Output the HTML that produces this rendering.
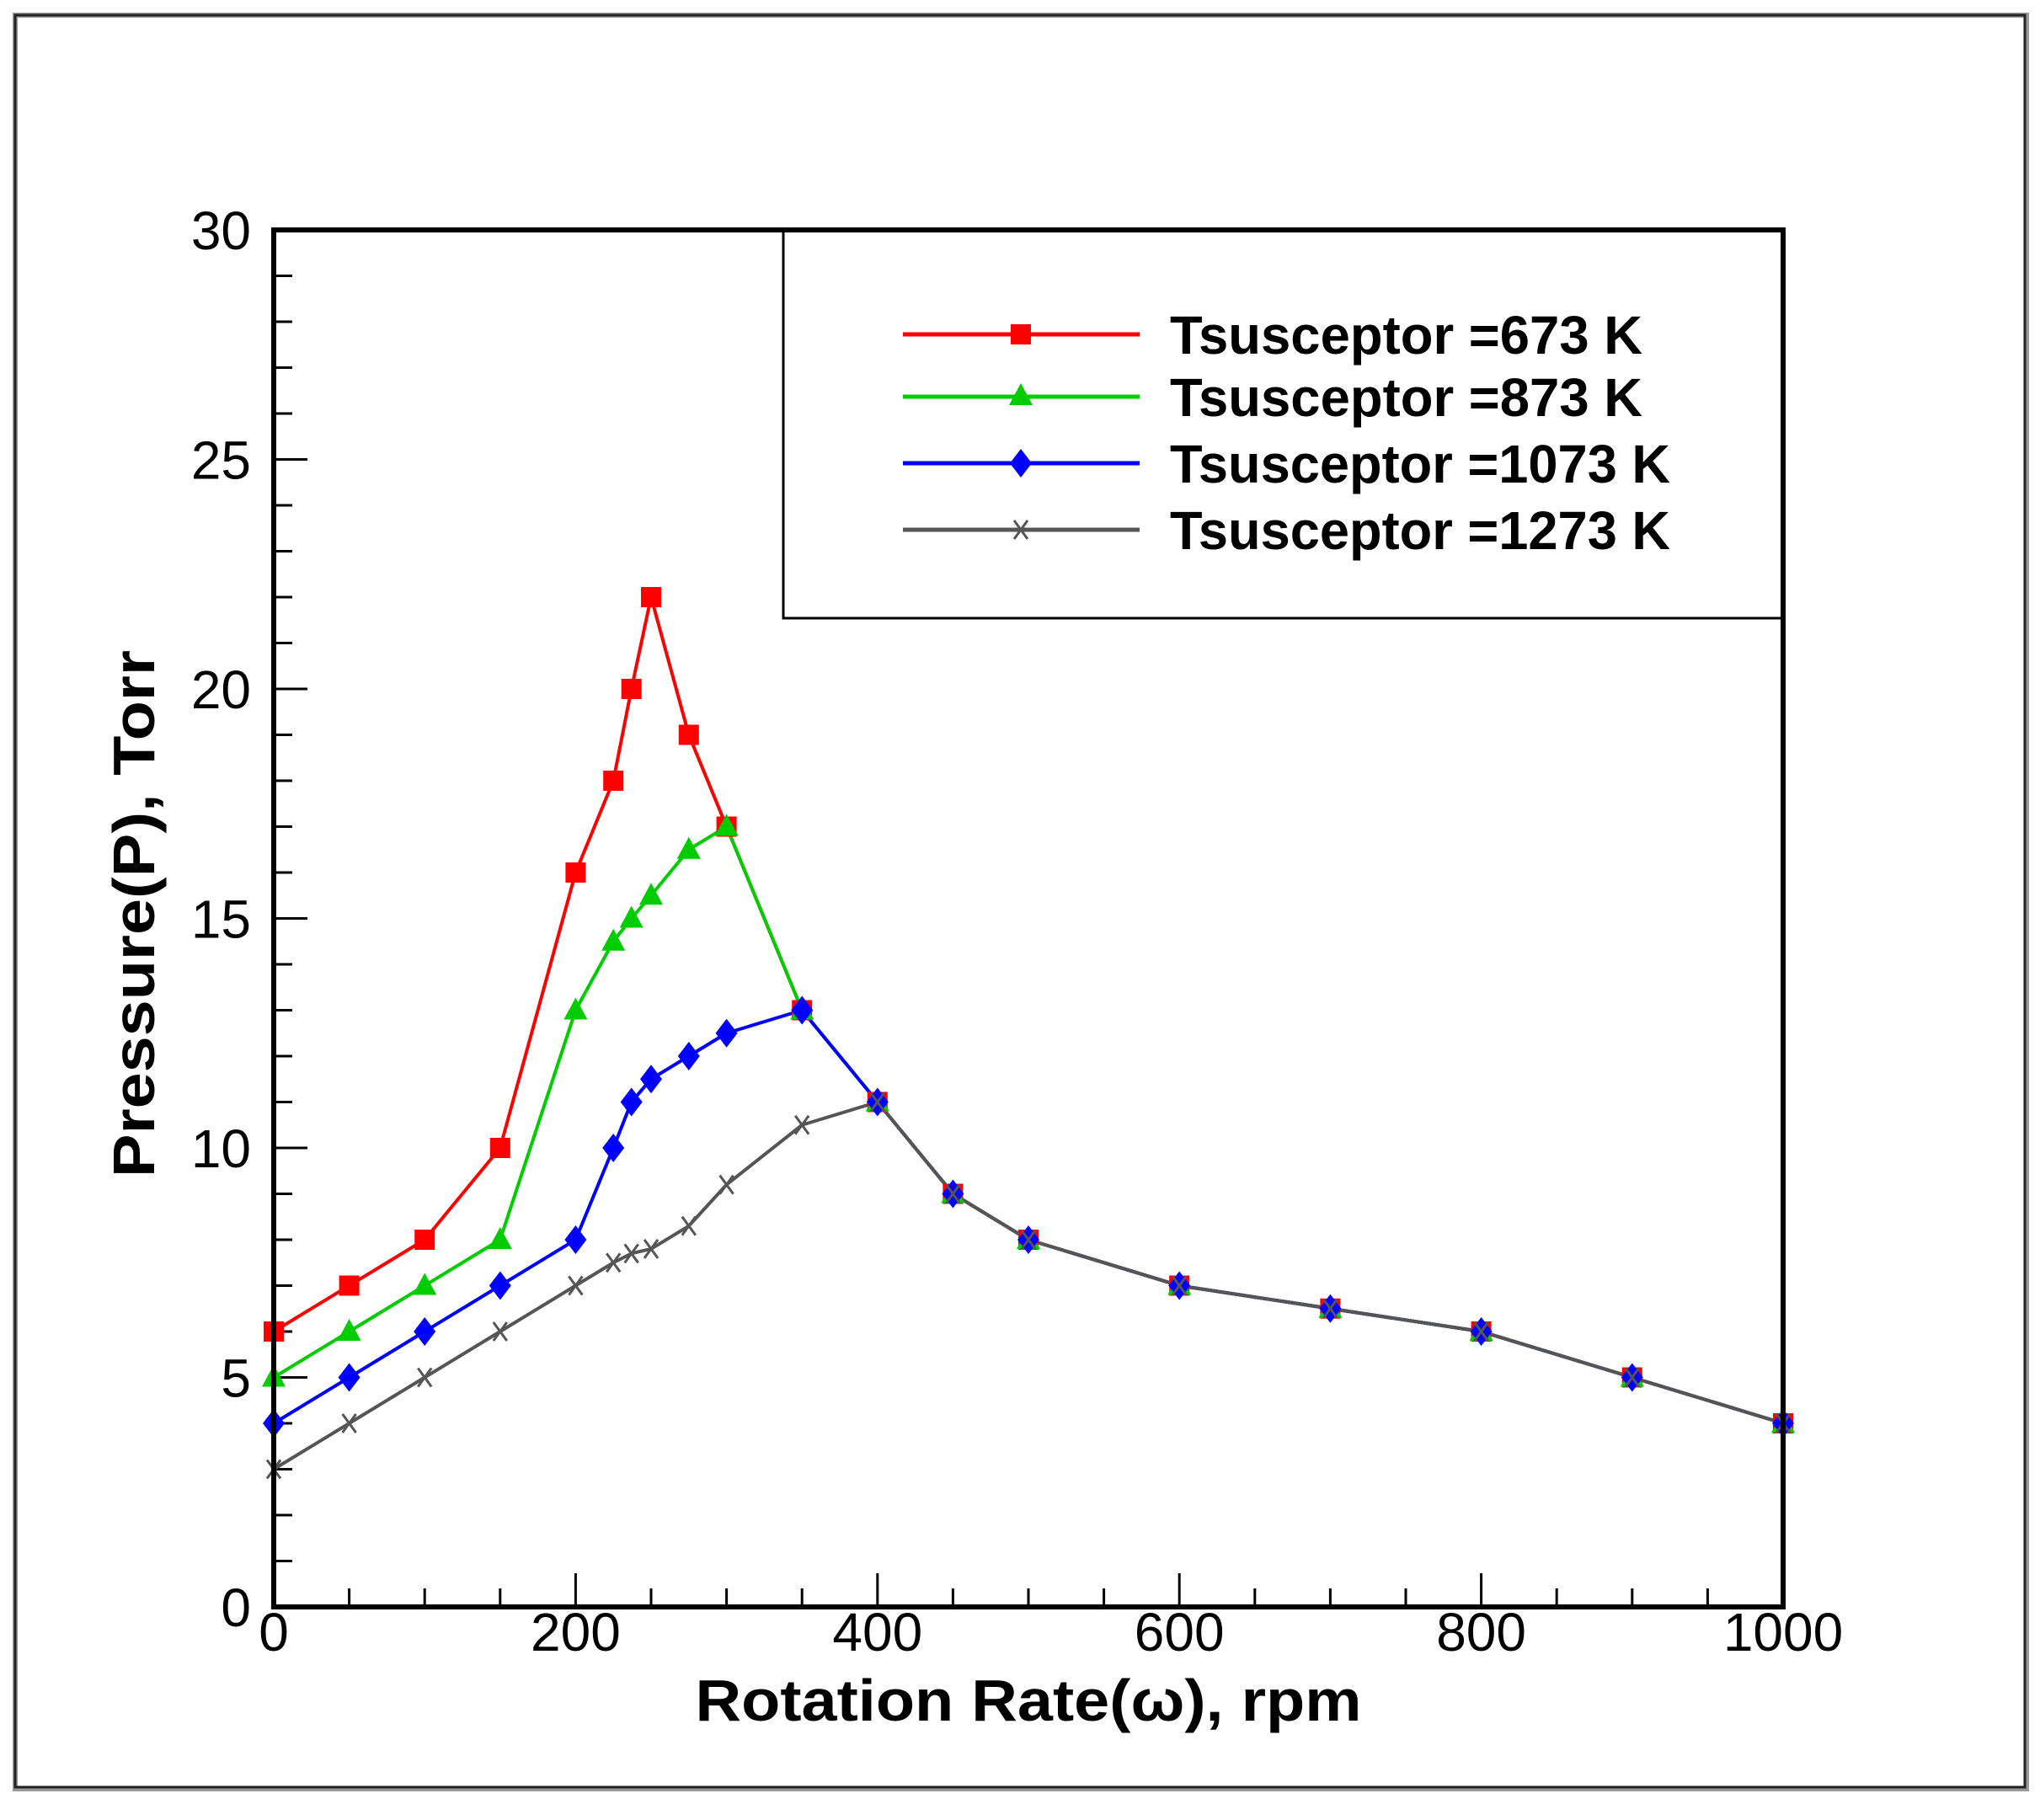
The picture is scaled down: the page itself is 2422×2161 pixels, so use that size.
<!DOCTYPE html>
<html><head><meta charset="utf-8"><style>html,body{margin:0;padding:0;background:#fff}svg{display:block}</style></head>
<body>
<svg width="2422" height="2161" viewBox="0 0 2422 2161" xmlns="http://www.w3.org/2000/svg" font-family="'Liberation Sans', Arial, sans-serif">
<rect x="0" y="0" width="2422" height="2161" fill="#fff"/>
<rect x="18" y="18" width="2388" height="2106" fill="none" stroke="#999" stroke-width="6"/>
<rect x="18" y="18" width="2386" height="2104" fill="none" stroke="#222" stroke-width="3"/>
<g id="ticks" stroke="#000" stroke-width="3"></g>
<rect x="930" y="273" width="1187" height="461" fill="#fff" stroke="#000" stroke-width="3"/>
<g id="series"></g>
<rect x="325" y="273" width="1792" height="1635" fill="none" stroke="#000" stroke-width="6"/>
<g id="labels" font-size="64" fill="#000"></g>
<text x="1221" y="2043" font-size="70" font-weight="bold" text-anchor="middle" textLength="791" lengthAdjust="spacingAndGlyphs">Rotation Rate(ω), rpm</text>
<text transform="translate(183,1085) rotate(-90)" font-size="70" font-weight="bold" text-anchor="middle" textLength="626" lengthAdjust="spacingAndGlyphs">Pressure(P), Torr</text>
<g font-size="64" font-weight="bold">
<line x1="1072" y1="397" x2="1353" y2="397" stroke="#f00" stroke-width="5"/><rect x="1200" y="385" width="24" height="24" fill="#f00"/>
<text x="1389" y="420" textLength="561" lengthAdjust="spacingAndGlyphs">Tsusceptor =673 K</text>
<line x1="1072" y1="471" x2="1353" y2="471" stroke="#0c0" stroke-width="5"/><polygon points="1212,455 1226,481 1198,481" fill="#0c0"/>
<text x="1389" y="494" textLength="561" lengthAdjust="spacingAndGlyphs">Tsusceptor =873 K</text>
<line x1="1072" y1="550" x2="1353" y2="550" stroke="#00f" stroke-width="5"/><polygon points="1212,533 1225,550 1212,567 1199,550" fill="#00f"/>
<text x="1389" y="573" textLength="594" lengthAdjust="spacingAndGlyphs">Tsusceptor =1073 K</text>
<line x1="1072" y1="629" x2="1353" y2="629" stroke="#555" stroke-width="5"/><path d="M1204,618 L1220,640 M1220,618 L1204,640" stroke="#555" stroke-width="3"/>
<text x="1389" y="652" textLength="594" lengthAdjust="spacingAndGlyphs">Tsusceptor =1273 K</text>
</g>
<script>
const X=v=>325+v*1.792, Y=v=>1908-v*54.5;
const ns="http://www.w3.org/2000/svg";
function el(t,a,p){const e=document.createElementNS(ns,t);for(const k in a)e.setAttribute(k,a[k]);p.appendChild(e);return e;}
const tk=document.getElementById('ticks');
for(let v=0;v<=1000;v+=50){const L=(v%200==0)?40:22;el('line',{x1:X(v),y1:1908,x2:X(v),y2:1908-L},tk);}
for(let v=0;v<=30;v++){const L=(v%5==0)?40:22;el('line',{x1:325,y1:Y(v),x2:325+L,y2:Y(v)},tk);}
const lb=document.getElementById('labels');
for(let v=0;v<=1000;v+=200){const t=el('text',{x:X(v),y:1960,'text-anchor':'middle'},lb);t.textContent=v;}
for(let v=0;v<=30;v+=5){const t=el('text',{x:298,y:Y(v)+23,'text-anchor':'end'},lb);t.textContent=v;}
const tail=[[400,11],[450,9],[500,8],[600,7],[700,6.5],[800,6],[900,5],[1000,4]];
const S=[
 ['#555','x',[[0,3],[50,4],[100,5],[150,6],[200,7],[225,7.5],[237,7.7],[250,7.8],[275,8.3],[300,9.2],[350,10.5]]],
 ['#00f','d',[[0,4],[50,5],[100,6],[150,7],[200,8],[225,10],[237,11],[250,11.5],[275,12],[300,12.5],[350,13]]],
 ['#0c0','t',[[0,5],[50,6],[100,7],[150,8],[200,13],[225,14.5],[237,15],[250,15.5],[275,16.5],[300,17],[350,13]]],
 ['#f00','s',[[0,6],[50,7],[100,8],[150,10],[200,16],[225,18],[237,20],[250,22],[275,19],[300,17],[350,13]]]
];
const sg=document.getElementById('series');
const order=[3,2,1,0];
for(const i of order){const [c,m,d0]=S[i];const d=d0.concat(tail);
 el('polyline',{points:d.map(p=>X(p[0])+','+Y(p[1])).join(' '),fill:'none',stroke:c,'stroke-width':4,'stroke-linejoin':'round'},sg);}
for(const i of order){const [c,m,d0]=S[i];const d=d0.concat(tail);
 for(const p of d){const x=X(p[0]),y=Y(p[1]);
  if(m=='s')el('rect',{x:x-12,y:y-12,width:24,height:24,fill:c},sg);
  else if(m=='t')el('polygon',{points:`${x},${y-15} ${x+14},${y+11} ${x-14},${y+11}`,fill:c},sg);
  else if(m=='d')el('polygon',{points:`${x},${y-17} ${x+13},${y} ${x},${y+17} ${x-13},${y}`,fill:c},sg);
  else el('path',{d:`M${x-8},${y-11} L${x+8},${y+11} M${x+8},${y-11} L${x-8},${y+11}`,stroke:c,'stroke-width':3},sg);
 }}
</script>
</svg>
</body></html>
